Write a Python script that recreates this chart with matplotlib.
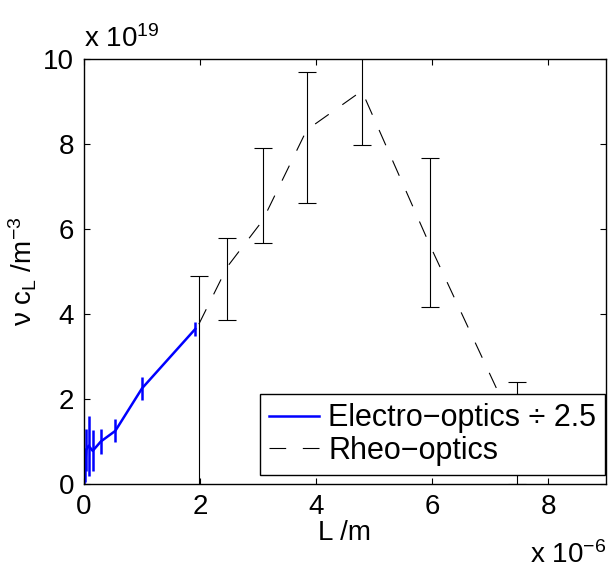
import numpy as np
import matplotlib
matplotlib.use("Agg")
import matplotlib.pyplot as plt
from matplotlib.lines import Line2D

plt.rcParams['font.family'] = ['Liberation Sans', 'DejaVu Sans']
plt.rcParams['mathtext.default'] = 'regular'
plt.rcParams['font.size'] = 20

# electro-optics (already divided by 2.5), L in 1e-6 m, nu c_L in 1e19 m^-3
eo_L = [0.005, 0.02, 0.04, 0.08, 0.15, 0.29, 0.54, 1.0, 1.92]
eo_nu = [0.1, 0.45, 0.8, 0.9, 0.78, 1.0, 1.25, 2.25, 3.65]
eo_err = [0.1, 0.4, 0.5, 0.7, 0.48, 0.29, 0.27, 0.27, 0.16]

# rheo-optics
rh_L = [1.98, 2.47, 3.08, 3.84, 4.79, 5.97, 7.47]
rh_nu = [3.76, 5.11, 6.2, 8.33, 9.25, 5.6, 1.2]
rh_lo = [4.2, 1.25, 0.52, 1.72, 1.27, 1.44, 1.21]
rh_hi = [1.13, 0.68, 1.71, 1.36, 1.3, 2.06, 1.21]

fig = plt.figure(figsize=(6.14, 5.72), dpi=100)
ax = fig.add_axes([84/614, 88/572, 522/614, 425/572])

# rheo error bars + dashed line
ax.errorbar(rh_L, rh_nu, yerr=[rh_lo, rh_hi], fmt='none', ecolor='k',
            elinewidth=0.8, capsize=6.5, capthick=0.8)
ax.plot(rh_L, rh_nu, color='k', lw=0.8, linestyle=(0, (15, 15)))

# electro-optics
ax.errorbar(eo_L, eo_nu, yerr=eo_err, fmt='none', ecolor='b',
            elinewidth=1.8, capsize=0)
ax.plot(eo_L, eo_nu, color='b', lw=1.8)

ax.set_xlim(0, 9)
ax.set_ylim(0, 10)
ax.set_xticks([0, 2, 4, 6, 8])
ax.set_yticks([0, 2, 4, 6, 8, 10])
ax.tick_params(direction='in', length=4, width=0.8, top=True, right=True, pad=7)
for s in ax.spines.values():
    s.set_linewidth(1.0)

ax.set_xlabel('L /m', labelpad=0)
ax.set_ylabel('ν c$_L$ /m$^{-3}$', labelpad=3)

ax.text(0.0, 1.015, 'x 10$^{19}$', transform=ax.transAxes, ha='left', va='bottom')
ax.text(1.0, -0.186, 'x 10$^{-6}$', transform=ax.transAxes, ha='right', va='baseline')

handles = [Line2D([], [], color='b', lw=1.8),
           Line2D([], [], color='k', lw=0.8, linestyle=(0, (15, 15)))]
leg = ax.legend(handles, ['Electro−optics ÷ 2.5', 'Rheo−optics'],
                loc='lower right', bbox_to_anchor=(0.999, 0.021),
                borderaxespad=0, fancybox=False, framealpha=1,
                edgecolor='k', handlelength=1.65, handletextpad=0.3,
                borderpad=0.3, labelspacing=0.08, fontsize=22)
leg.get_frame().set_linewidth(1.0)

fig.savefig('out.png', dpi=100)
